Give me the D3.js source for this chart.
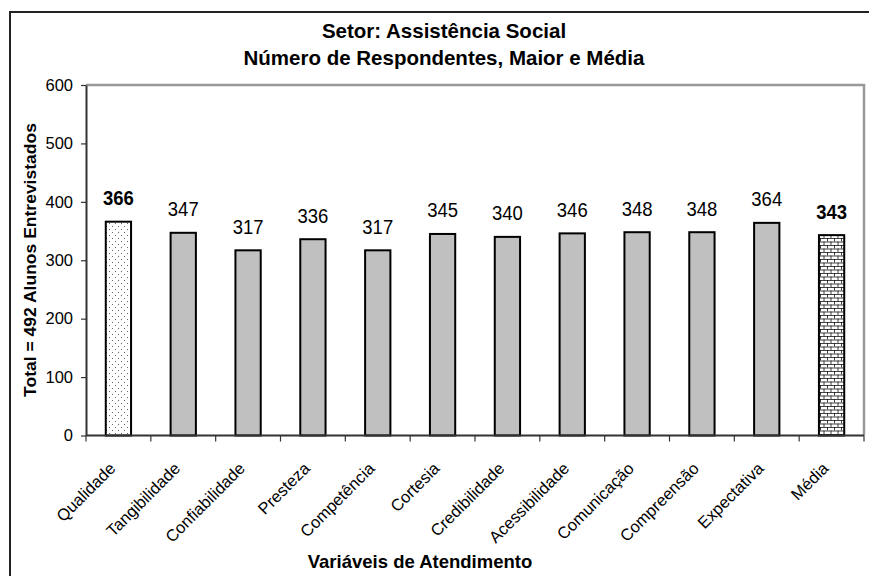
<!DOCTYPE html>
<html>
<head>
<meta charset="utf-8">
<script src="https://cdn.jsdelivr.net/npm/d3@7"></script>
<style>
  body { margin: 0; background: #fff; }
  svg { display: block; font-family: "Liberation Sans", Arial, sans-serif; }
</style>
</head>
<body>
<script>
// data
var categories = ["Qualidade", "Tangibilidade", "Confiabilidade", "Presteza", "Competência", "Cortesia",
    "Credibilidade", "Acessibilidade", "Comunicação", "Compreensão", "Expectativa", "Média"];
var values = [366, 347, 317, 336, 317, 345, 340, 346, 348, 348, 364, 343];
var yTicks = [0, 100, 200, 300, 400, 500, 600];
var maiorCat = "Qualidade",
    mediaCat = "Média";
var titleLines = ["Setor: Assistência Social", "Número de Respondentes, Maior e Média"];
var yTitle = "Total = 492 Alunos Entrevistados",
    xTitle = "Variáveis de Atendimento";

var width = 869,
    height = 576;

var plotLeft = 86,
    plotRight = 864,
    plotTop = 85,
    plotBottom = 435.5;

var svg = d3.select("body").append("svg")
    .attr("width", width)
    .attr("height", height);

//patterns for the two highlighted bars
var defs = svg.append("defs");
var dots = defs.append("pattern")
    .attr("id", "dots")
    .attr("patternUnits", "userSpaceOnUse")
    .attr("width", 6)
    .attr("height", 6);
dots.append("rect").attr("width", 6).attr("height", 6).attr("fill", "#fff");
dots.append("rect").attr("x", 1).attr("y", 1).attr("width", 1).attr("height", 1).attr("fill", "#666");
dots.append("rect").attr("x", 4).attr("y", 4).attr("width", 1).attr("height", 1).attr("fill", "#666");

var brick = defs.append("pattern")
    .attr("id", "brick")
    .attr("patternUnits", "userSpaceOnUse")
    .attr("width", 7)
    .attr("height", 7);
brick.append("rect").attr("width", 7).attr("height", 7).attr("fill", "#fff");
brick.append("path")
    .attr("d", "M0,0.5H7M0,4H7M1.5,0V3.5M5,3.5V7")
    .attr("stroke", "#111")
    .attr("stroke-width", 0.8)
    .attr("fill", "none");

//outer frame
svg.append("rect")
    .attr("x", 10).attr("y", 12)
    .attr("width", 880).attr("height", 590)
    .attr("fill", "none")
    .attr("stroke", "#222")
    .attr("stroke-width", 2);

var x = d3.scaleBand()
    .domain(categories)
    .range([plotLeft, plotRight]);

var y = d3.scaleLinear()
    .domain([0, 600])
    .range([plotBottom, plotTop]);

//plot border (top and right in gray)
svg.append("path")
    .attr("d", "M" + plotLeft + "," + plotTop + "H" + plotRight + "V" + plotBottom)
    .attr("fill", "none")
    .attr("stroke", "#999")
    .attr("stroke-width", 2.5);

//bars
var barW = x.bandwidth() * 0.39;
svg.selectAll(".bar")
    .data(values)
    .enter()
    .append("rect")
    .attr("class", "bar")
    .attr("x", function (d, i) { return x(categories[i]) + x.bandwidth() / 2 - barW / 2; })
    .attr("y", function (d) { return y(d); })
    .attr("width", barW)
    .attr("height", function (d) { return y(0) - y(d); })
    .attr("fill", function (d, i) {
        if (categories[i] == maiorCat) return "url(#dots)";
        if (categories[i] == mediaCat) return "url(#brick)";
        return "#c0c0c0";
    })
    .attr("stroke", "#000")
    .attr("stroke-width", 2);

//value labels
svg.selectAll(".num")
    .data(values)
    .enter()
    .append("text")
    .attr("class", "num")
    .attr("text-anchor", "middle")
    .attr("transform", function (d, i) {
        return "translate(" + (x(categories[i]) + x.bandwidth() / 2) + "," + (y(d) - 16.5) + ") scale(1,1.12)";
    })
    .attr("font-size", 18.5)
    .attr("font-weight", function (d, i) {
        return (categories[i] == maiorCat || categories[i] == mediaCat) ? "bold" : "normal";
    })
    .text(function (d) { return d; });

//y axis
var yAxis = svg.append("g")
    .attr("transform", "translate(" + plotLeft + ",0)")
    .call(d3.axisLeft(y).tickValues(yTicks).tickSize(5).tickPadding(8).tickSizeOuter(0));
yAxis.select(".domain").attr("stroke", "#333").attr("stroke-width", 2);
yAxis.selectAll(".tick line").attr("stroke", "#333").attr("stroke-width", 1.2);
yAxis.selectAll(".tick text")
    .attr("font-size", 16.5)
    .attr("font-family", "Liberation Sans, Arial, sans-serif")
    .attr("fill", "#000");

//x axis: ticks at category boundaries
svg.append("line")
    .attr("x1", plotLeft).attr("x2", plotRight)
    .attr("y1", plotBottom).attr("y2", plotBottom)
    .attr("stroke", "#333").attr("stroke-width", 2);
var bounds = categories.map(function (c) { return x(c); }).concat([plotRight]);
svg.selectAll(".xtick")
    .data(bounds)
    .enter()
    .append("line")
    .attr("x1", function (d) { return d; })
    .attr("x2", function (d) { return d; })
    .attr("y1", plotBottom)
    .attr("y2", plotBottom + 6)
    .attr("stroke", "#333")
    .attr("stroke-width", 1.2);

svg.selectAll(".xlab")
    .data(categories)
    .enter()
    .append("text")
    .attr("class", "xlab")
    .attr("text-anchor", "end")
    .attr("font-size", 16.5)
    .attr("transform", function (d) {
        return "translate(" + (x(d) + x.bandwidth() / 2 - 2) + "," + (plotBottom + 34) + ") rotate(-45)";
    })
    .text(function (d) { return d; });

//titles
svg.selectAll(".title")
    .data(titleLines)
    .enter()
    .append("text")
    .attr("class", "title")
    .attr("text-anchor", "middle")
    .attr("x", 444)
    .attr("y", function (d, i) { return 38 + i * 27; })
    .attr("font-size", 20.5)
    .attr("font-weight", "bold")
    .text(function (d) { return d; });

svg.append("text")
    .attr("text-anchor", "middle")
    .attr("font-size", 17)
    .attr("font-weight", "bold")
    .attr("transform", "translate(36,260) rotate(-90) scale(1.03,1)")
    .text(yTitle);

svg.append("text")
    .attr("text-anchor", "middle")
    .attr("x", 420)
    .attr("y", 568)
    .attr("font-size", 18.5)
    .attr("font-weight", "bold")
    .text(xTitle);
</script>
</body>
</html>
